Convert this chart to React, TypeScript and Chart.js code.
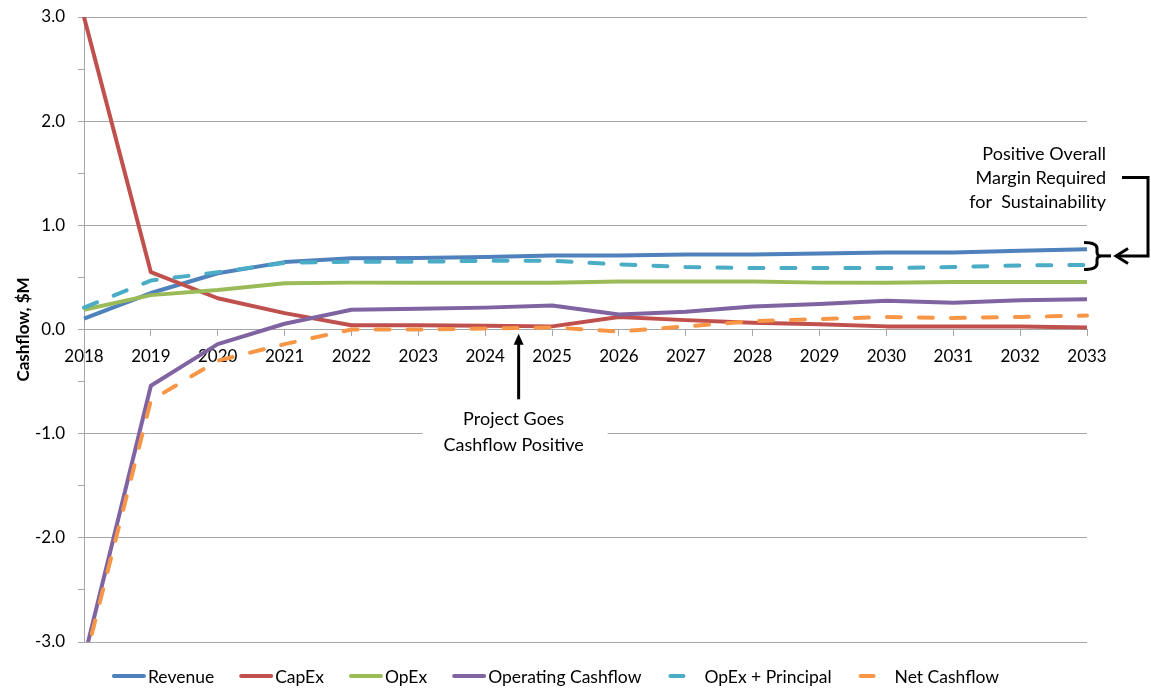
import React, { useEffect, useRef } from 'react';
import { Chart, registerables } from 'chart.js';

Chart.register(...registerables);

const years = ['2018', '2019', '2020', '2021', '2022', '2023', '2024', '2025', '2026', '2027', '2028', '2029', '2030', '2031', '2032', '2033'];

const revenue = [0.105, 0.35, 0.54, 0.647, 0.685, 0.686, 0.695, 0.71, 0.71, 0.72, 0.72, 0.73, 0.74, 0.74, 0.755, 0.77];
const capex = [3.0, 0.55, 0.30, 0.157, 0.04, 0.04, 0.035, 0.03, 0.12, 0.09, 0.065, 0.05, 0.03, 0.03, 0.03, 0.02];
const opex = [0.19, 0.33, 0.38, 0.445, 0.45, 0.45, 0.45, 0.45, 0.46, 0.46, 0.46, 0.45, 0.45, 0.455, 0.455, 0.455];
const operatingCashflow = [-3.16, -0.54, -0.14, 0.055, 0.19, 0.20, 0.21, 0.23, 0.145, 0.17, 0.22, 0.245, 0.275, 0.256, 0.28, 0.29];
const opexPrincipal = [0.21, 0.47, 0.55, 0.64, 0.65, 0.65, 0.66, 0.66, 0.625, 0.60, 0.59, 0.59, 0.59, 0.60, 0.615, 0.62];
const netCashflow = [-3.22, -0.68, -0.30, -0.14, 0.0, 0.0, 0.01, 0.02, -0.02, 0.03, 0.08, 0.10, 0.12, 0.11, 0.12, 0.135];

const seriesNames = ['Revenue', 'CapEx', 'OpEx', 'Operating Cashflow', 'OpEx + Principal', 'Net Cashflow'];
const seriesColors = ['#4F81BD', '#C0504D', '#9BBB59', '#8064A2', '#4BACC6', '#F79646'];
const seriesDashed = [false, false, false, false, true, true];
const seriesValues = [revenue, capex, opex, operatingCashflow, opexPrincipal, netCashflow];

const yAxisTitle = 'Cashflow, $M';
const yMin = -3;
const yMax = 3;
const yStep = 0.5;

const marginNote = ['Positive Overall', 'Margin Required', 'for  Sustainability'];
const positiveNote = ['Project Goes', 'Cashflow Positive'];

const FONT = 'Lato, "Open Sans", sans-serif';
const GRID = '#A6A6A6';

const annotationPlugin = {
  id: 'customLegendAndNotes',
  afterDraw(chart: any) {
    const { ctx, chartArea } = chart;
    const x = chart.scales.x;
    const y = chart.scales.y;
    ctx.save();

    // ---- Legend ----
    ctx.font = `17.5px ${FONT}`;
    ctx.textBaseline = 'middle';
    ctx.textAlign = 'left';
    const ds = chart.data.datasets;
    const items = ds.map((d: any) => {
      const dashed = !!(d.borderDash && d.borderDash.length);
      const tw = ctx.measureText(d.label).width;
      return { d, dashed, tw, w: (dashed ? 38 : 36) + tw };
    });
    const gap = 25;
    const total = items.reduce((s: number, i: any) => s + i.w, 0) + gap * (items.length - 1);
    let lx = (chartArea.left + chartArea.right) / 2 - 30 - total / 2;
    const ly = chartArea.bottom + 34;
    items.forEach((it: any) => {
      ctx.strokeStyle = it.d.borderColor;
      ctx.lineWidth = 4;
      ctx.lineCap = 'round';
      ctx.setLineDash([]);
      ctx.beginPath();
      if (it.dashed) {
        ctx.moveTo(lx + 4, ly);
        ctx.lineTo(lx + 17, ly);
      } else {
        ctx.moveTo(lx + 2, ly);
        ctx.lineTo(lx + 32, ly);
      }
      ctx.stroke();
      ctx.fillStyle = '#000';
      ctx.fillText(it.d.label, lx + (it.dashed ? 38 : 36), ly + 1);
      lx += it.w + gap;
    });

    // ---- Margin note with bracket ----
    const bx = x.getPixelForValue(years.length - 1);
    ctx.font = `18px ${FONT}`;
    ctx.textAlign = 'right';
    ctx.fillStyle = '#000';
    const noteVals = [1.68, 1.45, 1.22];
    marginNote.forEach((t, i) => ctx.fillText(t, bx + 19, y.getPixelForValue(noteVals[i])));

    const top = y.getPixelForValue(0.836);
    const bot = y.getPixelForValue(0.577);
    const mid = (top + bot) / 2;
    const conn = y.getPixelForValue(1.46);
    ctx.strokeStyle = '#000';
    ctx.lineWidth = 3;
    ctx.lineCap = 'butt';
    ctx.lineJoin = 'miter';
    ctx.beginPath();
    ctx.moveTo(bx - 3, top);
    ctx.quadraticCurveTo(bx + 10, top, bx + 10, top + 6);
    ctx.lineTo(bx + 10, mid - 4);
    ctx.quadraticCurveTo(bx + 10, mid, bx + 14, mid);
    ctx.quadraticCurveTo(bx + 10, mid, bx + 10, mid + 4);
    ctx.lineTo(bx + 10, bot - 6);
    ctx.quadraticCurveTo(bx + 10, bot, bx - 3, bot);
    ctx.stroke();
    ctx.beginPath();
    ctx.moveTo(bx + 14, mid);
    ctx.lineTo(bx + 24, mid);
    ctx.stroke();
    ctx.beginPath();
    ctx.moveTo(bx + 35, conn);
    ctx.lineTo(bx + 61, conn);
    ctx.lineTo(bx + 61, mid);
    ctx.lineTo(bx + 29, mid);
    ctx.stroke();
    ctx.beginPath();
    ctx.moveTo(bx + 41, mid - 7.5);
    ctx.lineTo(bx + 29, mid);
    ctx.lineTo(bx + 41, mid + 7.5);
    ctx.stroke();

    // ---- Cashflow positive note ----
    const cx = (x.getPixelForValue(6) + x.getPixelForValue(7)) / 2;
    const boxTop = y.getPixelForValue(-0.73);
    const boxBot = y.getPixelForValue(-1.22);
    ctx.fillStyle = '#fff';
    ctx.fillRect(cx - 96, boxTop, 185, boxBot - boxTop);
    ctx.fillStyle = '#000';
    ctx.textAlign = 'center';
    ctx.fillText(positiveNote[0], cx - 5, y.getPixelForValue(-0.865));
    ctx.fillText(positiveNote[1], cx - 5, y.getPixelForValue(-1.115));
    const aBot = y.getPixelForValue(-0.67);
    const aTip = y.getPixelForValue(-0.04);
    ctx.beginPath();
    ctx.moveTo(cx, aBot);
    ctx.lineTo(cx, aTip + 8);
    ctx.stroke();
    ctx.beginPath();
    ctx.moveTo(cx, aTip);
    ctx.lineTo(cx - 5, aTip + 11);
    ctx.lineTo(cx + 5, aTip + 11);
    ctx.closePath();
    ctx.fill();

    ctx.restore();
  },
};

export default function App() {
  const canvasRef = useRef<HTMLCanvasElement | null>(null);

  useEffect(() => {
    const canvas = canvasRef.current;
    if (!canvas) return;
    const n = seriesNames.length;
    const chart = new Chart(canvas, {
      type: 'line',
      data: {
        labels: years,
        datasets: seriesNames.map((name, i) => ({
          label: name,
          data: seriesValues[i],
          borderColor: seriesColors[i],
          backgroundColor: seriesColors[i],
          borderWidth: 4,
          borderDash: seriesDashed[i] ? [14, 18] : [],
          borderCapStyle: seriesDashed[i] ? 'round' : 'butt',
          borderJoinStyle: 'round',
          pointRadius: 0,
          pointHoverRadius: 0,
          tension: 0,
          fill: false,
          order: n - 1 - i,
        })) as any,
      },
      options: {
        animation: false,
        responsive: false,
        maintainAspectRatio: false,
        events: [],
        layout: { padding: { left: 0, top: 17, right: 64, bottom: 48 } },
        plugins: {
          legend: { display: false },
          tooltip: { enabled: false },
          title: { display: false },
        },
        scales: {
          x: {
            type: 'category',
            position: { y: 0 } as any,
            offset: false,
            grid: {
              drawOnChartArea: false,
              drawTicks: true,
              tickLength: 6,
              tickColor: GRID,
              color: GRID,
            },
            border: { display: true, color: GRID, width: 1 },
            ticks: {
              color: '#000',
              font: { family: FONT, size: 17 },
              padding: 11,
              maxRotation: 0,
              autoSkip: false,
            },
          },
          y: {
            type: 'linear',
            min: yMin,
            max: yMax,
            afterFit: (scale: any) => {
              scale.width = 84;
              scale.paddingTop = 0;
              scale.paddingBottom = 0;
            },
            grid: {
              color: (c: any) => (Number.isInteger(c.tick?.value) ? GRID : 'rgba(0,0,0,0)'),
              tickColor: GRID,
              tickLength: 6,
              drawTicks: true,
            },
            border: { display: true, color: GRID, width: 1 },
            ticks: {
              stepSize: yStep,
              color: '#000',
              font: { family: FONT, size: 17 },
              padding: 13,
              autoSkip: false,
              callback: (v: any) => (Number.isInteger(Number(v)) ? Number(v).toFixed(1) : ''),
            },
            title: {
              display: true,
              text: yAxisTitle,
              color: '#000',
              font: { family: FONT, size: 17, weight: 'bold' },
              padding: { top: 13, bottom: 0 },
            },
          },
        },
      },
      plugins: [annotationPlugin],
    });
    return () => chart.destroy();
  }, []);

  return (
    <div style={{ position: 'absolute', left: 0, top: 0, width: 1151, height: 690, background: '#fff' }}>
      <canvas ref={canvasRef} width={1151} height={690} style={{ display: 'block', width: 1151, height: 690 }} />
    </div>
  );
}
